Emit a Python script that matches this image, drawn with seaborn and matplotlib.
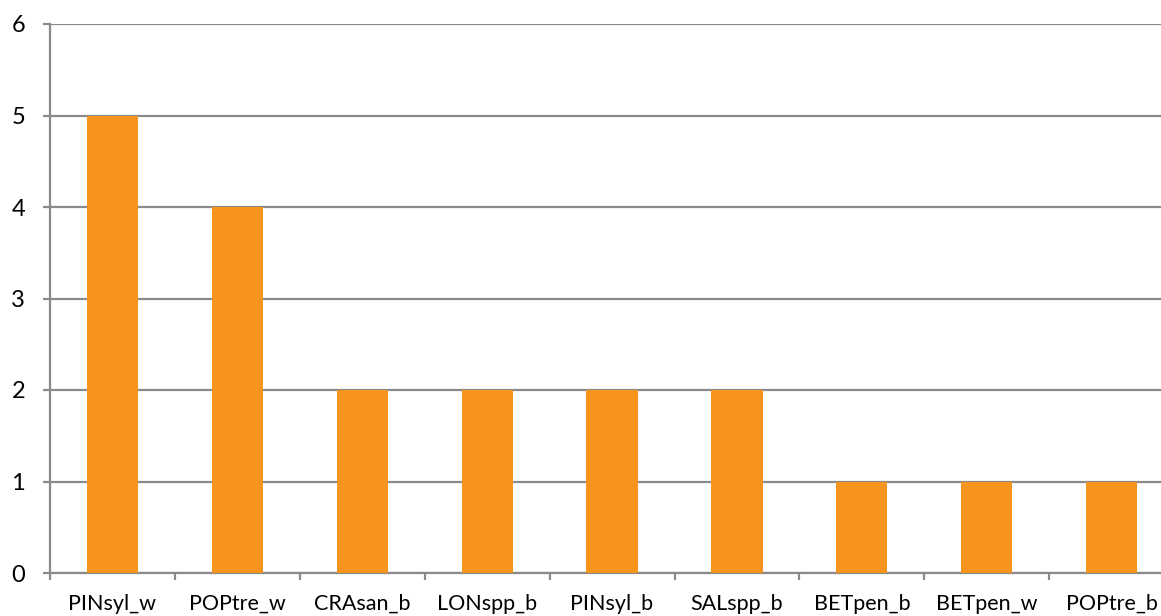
import matplotlib
matplotlib.use("Agg")
import matplotlib.pyplot as plt
import seaborn as sns
import pandas as pd
import numpy as np

species = ["PINsyl_w", "POPtre_w", "CRAsan_b", "LONspp_b", "PINsyl_b",
           "SALspp_b", "BETpen_b", "BETpen_w", "POPtre_b"]
counts = [5, 4, 2, 2, 2, 2, 1, 1, 1]
y_ticks = [0, 1, 2, 3, 4, 5, 6]

sns.set_theme(style="white")
plt.rcParams["font.family"] = ["Lato", "DejaVu Sans"]

W, H = 1161, 616
fig = plt.figure(figsize=(W / 100, H / 100), dpi=100)
left_px, right_px, top_px, bottom_px = 50, 50 + 9 * 124.9, 24, 573
ax = fig.add_axes([left_px / W, (H - bottom_px) / H,
                   (right_px - left_px) / W, (bottom_px - top_px) / H])

df = pd.DataFrame({"species": species, "count": counts})
sns.barplot(data=df, x="species", y="count", color="#F7941D", saturation=1,
            width=0.41, linewidth=0, ax=ax, zorder=3)

grid_c = "#8A8A8A"
ax.set_xlim(-0.5, len(species) - 0.5)
ax.set_ylim(0, 6)
ax.set_yticks(y_ticks)
ax.yaxis.grid(True, color=grid_c, linewidth=1.6, zorder=0)
ax.set_axisbelow(True)
ax.set_xlabel("")
ax.set_ylabel("")

for s in ["top", "right"]:
    ax.spines[s].set_visible(False)
for s in ["left", "bottom"]:
    ax.spines[s].set_color(grid_c)
    ax.spines[s].set_linewidth(1.6)

ax.tick_params(axis="y", which="major", left=True, length=5, width=1.6,
               color=grid_c, labelsize=17, pad=13, labelcolor="black")
ax.tick_params(axis="x", which="major", bottom=False, length=0,
               labelsize=15.5, pad=15, labelcolor="black")
ax.set_xticks(np.arange(-0.5, len(species) + 0.5, 1), minor=True)
ax.tick_params(axis="x", which="minor", bottom=True, length=5, width=1.6,
               color=grid_c)

fig.savefig("out.png", dpi=100)
